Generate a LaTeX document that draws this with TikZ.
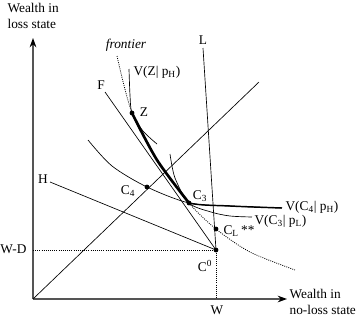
\documentclass[tikz,border=0pt]{standalone}
\usepackage{fontspec}
\setmainfont{Liberation Serif}
\usetikzlibrary{arrows.meta}
\definecolor{AxGray}{HTML}{555555}

\begin{document}
\begin{tikzpicture}[x=0.75pt,y=-0.75pt,
  every node/.style={font=\fontsize{10}{11.5}\selectfont,inner sep=1pt},
  axis/.style={draw=AxGray,line width=1pt,-{Stealth[length=7pt,width=5pt,color=black]}},
  curve/.style={line width=0.5pt},
  dots/.style={line width=0.6pt,dash pattern=on 0.7pt off 0.9pt},
  dot/.style={fill=black}
]
\useasboundingbox (0,0) rectangle (362,318);
% points
\coordinate (O) at (33,299);
\coordinate (Z) at (132,113);
\coordinate (C4) at (147,187);
\coordinate (C3) at (189,203);
\coordinate (CL) at (216,229);
\coordinate (C0) at (216,250);
\coordinate (ytop) at (33,38);
\coordinate (xend) at (287,299);
\coordinate (WD) at (33,250);
\coordinate (W) at (216,299);
\coordinate (Fend) at (105,92);
\coordinate (Hend) at (50,182);
\coordinate (Lend) at (203,48);
\coordinate (diag) at (259,82);
% axes
\draw[axis] (O) -- (ytop);
\draw[axis] (O) -- (xend);
\draw[dots] (WD) -- (C0) -- (W);
% lines
\draw[curve] (O) -- (diag);
\draw[curve] (Fend) -- (C0);
\draw[curve] (Hend) -- (C0);
\draw[curve] (Lend) -- (C0);
% frontier
\draw[dots] plot[smooth] coordinates {(117,56) (Z) (157,160) (C3) (CL) (250,252) (295,270)};
\draw[line width=2pt] plot[smooth] coordinates {(Z) (157,160) (C3)};
% indifference curves
\draw[curve] plot[smooth] coordinates {(129,69) (130,95) (Z) (143,131) (157,144)};
\draw[curve] plot[smooth] coordinates {(88,140) (112,166) (C4) (C3) (230,206) (282,208)};
\begin{scope}
  \clip (189,0) rectangle (362,318);
  \draw[line width=1.1pt] plot[smooth] coordinates {(88,140) (112,166) (C4) (C3) (230,206) (282,208)};
\end{scope}
\draw[curve] plot[smooth] coordinates {(170,154) (175,178) (C3) (211,212) (230,216) (252,217)};
% dots
\foreach \p in {Z,C4,C3,CL,C0} \fill[dot] (\p) circle (1.8pt);
% labels
\node[anchor=west,align=left] (ylab) at (6,16) {Wealth in\\loss state};
\node[anchor=west,align=left] (xlab) at (288,302) {Wealth in\\no-loss state};
\node (front) at (126,45) {\itshape frontier};
\node[anchor=west] (vz) at (132,72) {V(Z| p\textsubscript{H})};
\node (flab) at (101,85) {F};
\node (llab) at (203,40) {L};
\node (zlab) at (144,112) {Z};
\node (hlab) at (43,179) {H};
\node (c4lab) at (128,191) {C\textsubscript{4}};
\node (c3lab) at (200,196) {C\textsubscript{3}};
\node[anchor=west] (vc4) at (284,207) {V(C\textsubscript{4}| p\textsubscript{H})};
\node[anchor=west] (vc3) at (253,221) {V(C\textsubscript{3}| p\textsubscript{L})};
\node[anchor=west] (cllab) at (222,231) {C\textsubscript{L}\,**};
\node[anchor=east] (wdlab) at (28,249) {W-D};
\node (c0lab) at (205,266) {C\textsuperscript{0}};
\node (wlab) at (217,310) {W};
\end{tikzpicture}
\end{document}
